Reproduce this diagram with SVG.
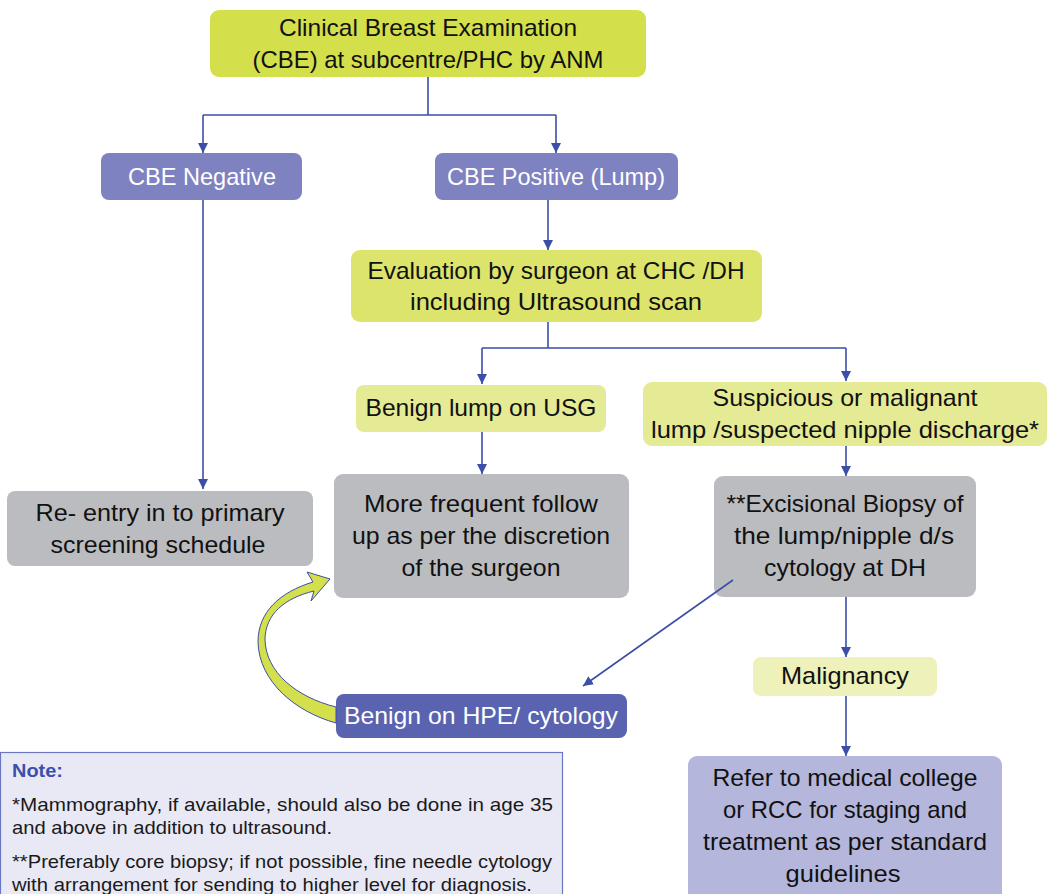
<svg xmlns="http://www.w3.org/2000/svg" width="1053" height="894" viewBox="0 0 1053 894">
<defs>
<style>
.t{font-family:"Liberation Sans",Arial,sans-serif;font-size:24px;fill:#111;text-anchor:middle}
.w{fill:#fff}
.n{font-family:"Liberation Sans",Arial,sans-serif;font-size:19px;fill:#1a1a1a}
.c{fill:none;stroke:#3c4fa6;stroke-width:1.6}
</style>
<marker id="ah" viewBox="0 0 10 10" refX="10" refY="5" markerWidth="10" markerHeight="10" markerUnits="userSpaceOnUse" orient="auto">
<path d="M0,0 L10,5 L0,10 Z" fill="#3c4fa6"/>
</marker>
</defs>
<rect width="1053" height="894" fill="#fff"/>

<g id="cbe">
<rect x="210" y="10" width="436" height="67" rx="9" fill="#d4df4c"/>
<text class="t" x="428" y="36" textLength="298" lengthAdjust="spacingAndGlyphs">Clinical Breast Examination</text>
<text class="t" x="428" y="68" textLength="351" lengthAdjust="spacingAndGlyphs">(CBE) at subcentre/PHC by ANM</text>
</g>

<g id="cbe-negative">
<rect x="101" y="153" width="201" height="47" rx="8" fill="#7e82c0"/>
<text class="t w" x="202" y="185" textLength="148" lengthAdjust="spacingAndGlyphs">CBE Negative</text>
</g>

<g id="cbe-positive">
<rect x="435" y="153" width="243" height="47" rx="8" fill="#7e82c0"/>
<text class="t w" x="556" y="185" textLength="218" lengthAdjust="spacingAndGlyphs">CBE Positive (Lump)</text>
</g>

<g id="evaluation">
<rect x="351" y="250" width="411" height="72" rx="9" fill="#dce46c"/>
<text class="t" x="556" y="279" textLength="377" lengthAdjust="spacingAndGlyphs">Evaluation by surgeon at CHC /DH</text>
<text class="t" x="556" y="310" textLength="292" lengthAdjust="spacingAndGlyphs">including Ultrasound scan</text>
</g>

<g id="benign-usg">
<rect x="356" y="385" width="250" height="47" rx="8" fill="#e5ea95"/>
<text class="t" x="481" y="416" textLength="231" lengthAdjust="spacingAndGlyphs">Benign lump on USG</text>
</g>

<g id="suspicious">
<rect x="643" y="382" width="404" height="64" rx="9" fill="#e5ea95"/>
<text class="t" x="845" y="406" textLength="265" lengthAdjust="spacingAndGlyphs">Suspicious or malignant</text>
<text class="t" x="845" y="438" textLength="388" lengthAdjust="spacingAndGlyphs">lump /suspected nipple discharge*</text>
</g>

<g id="reentry">
<rect x="7" y="491" width="306" height="75" rx="8" fill="#bbbcbf"/>
<text class="t" x="160" y="521" textLength="249" lengthAdjust="spacingAndGlyphs">Re- entry in to primary</text>
<text class="t" x="158" y="553" textLength="215" lengthAdjust="spacingAndGlyphs">screening schedule</text>
</g>

<g id="follow-up">
<rect x="334" y="474" width="295" height="124" rx="9" fill="#bbbcbf"/>
<text class="t" x="481" y="512" textLength="234" lengthAdjust="spacingAndGlyphs">More frequent follow</text>
<text class="t" x="481" y="544" textLength="258" lengthAdjust="spacingAndGlyphs">up as per the discretion</text>
<text class="t" x="481" y="576" textLength="159" lengthAdjust="spacingAndGlyphs">of the surgeon</text>
</g>

<g id="biopsy">
<rect x="714" y="476" width="262" height="121" rx="9" fill="#bbbcbf"/>
<text class="t" x="845" y="512" textLength="237" lengthAdjust="spacingAndGlyphs">**Excisional Biopsy of</text>
<text class="t" x="844" y="544" textLength="220" lengthAdjust="spacingAndGlyphs">the lump/nipple d/s</text>
<text class="t" x="845" y="576" textLength="162" lengthAdjust="spacingAndGlyphs">cytology at DH</text>
</g>

<g id="malignancy">
<rect x="753" y="657" width="184" height="39" rx="8" fill="#eef1b9"/>
<text class="t" x="845" y="684" textLength="128" lengthAdjust="spacingAndGlyphs">Malignancy</text>
</g>

<g id="benign-hpe">
<rect x="336" y="694" width="291" height="44" rx="8" fill="#5a63b0"/>
<text class="t w" x="481" y="724" textLength="274" lengthAdjust="spacingAndGlyphs">Benign on HPE/ cytology</text>
</g>

<g id="refer">
<rect x="688" y="756" width="314" height="150" rx="9" fill="#b4b6dc"/>
<text class="t" x="845" y="786" textLength="265" lengthAdjust="spacingAndGlyphs">Refer to medical college</text>
<text class="t" x="845" y="818" textLength="244" lengthAdjust="spacingAndGlyphs">or RCC for staging and</text>
<text class="t" x="845" y="850" textLength="284" lengthAdjust="spacingAndGlyphs">treatment as per standard</text>
<text class="t" x="843" y="882" textLength="115" lengthAdjust="spacingAndGlyphs">guidelines</text>
</g>

<g id="note">
<rect x="0.5" y="752.5" width="562" height="160" fill="#e9e9f5" stroke="#6b77be" stroke-width="1.2"/>
<text class="n" x="12" y="777" style="font-weight:bold;fill:#3d4faa" textLength="51" lengthAdjust="spacingAndGlyphs">Note:</text>
<text class="n" x="12" y="811" textLength="541" lengthAdjust="spacingAndGlyphs">*Mammography, if available, should also be done in age 35</text>
<text class="n" x="12" y="834" textLength="320" lengthAdjust="spacingAndGlyphs">and above in addition to ultrasound.</text>
<text class="n" x="12" y="868" textLength="540" lengthAdjust="spacingAndGlyphs">**Preferably core biopsy; if not possible, fine needle cytology</text>
<text class="n" x="12" y="891" textLength="520" lengthAdjust="spacingAndGlyphs">with arrangement for sending to higher level for diagnosis.</text>
</g>

<g id="connectors">
<path class="c" d="M428,77 V115 M203,115 H556"/>
<path class="c" d="M203,115 V153" marker-end="url(#ah)"/>
<path class="c" d="M556,115 V153" marker-end="url(#ah)"/>
<path class="c" d="M203,200 V489" marker-end="url(#ah)"/>
<path class="c" d="M548,200 V250" marker-end="url(#ah)"/>
<path class="c" d="M548,322 V348 M482,348 H846"/>
<path class="c" d="M482,348 V384" marker-end="url(#ah)"/>
<path class="c" d="M846,348 V381" marker-end="url(#ah)"/>
<path class="c" d="M482,432 V474" marker-end="url(#ah)"/>
<path class="c" d="M846,446 V476" marker-end="url(#ah)"/>
<path class="c" d="M846,597 V657" marker-end="url(#ah)"/>
<path class="c" d="M846,696 V756" marker-end="url(#ah)"/>
<path class="c" d="M733,580 L583,686" marker-end="url(#ah)"/>
<path d="M336,707 C296,697 266,672 265,640 C265,614 285,598 314,591 L311,601 L330,579 L307,572 L313,582 C280,592 258,612 258,642 C259,682 296,712 336,723 Z" fill="#d4df4c" stroke="#3c4fa6" stroke-width="1"/>
</g>
</svg>
